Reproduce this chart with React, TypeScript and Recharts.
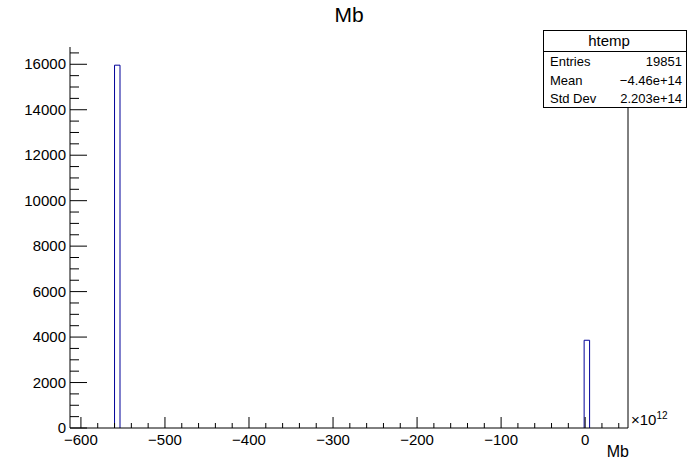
import { ComposedChart, Line, XAxis, YAxis } from "recharts";

// histogram bins (x in units of 1e12)
const binLow = [-560, -1.2];
const binHigh = [-553.5, 5.3];
const binCount = [15960, 3860];

const xTicks = [
  -600, -580, -560, -540, -520, -500, -480, -460, -440, -420, -400, -380, -360, -340, -320,
  -300, -280, -260, -240, -220, -200, -180, -160, -140, -120, -100, -80, -60, -40, -20, 0, 20, 40,
];
const yTicks = [
  0, 500, 1000, 1500, 2000, 2500, 3000, 3500, 4000, 4500, 5000, 5500, 6000, 6500, 7000, 7500,
  8000, 8500, 9000, 9500, 10000, 10500, 11000, 11500, 12000, 12500, 13000, 13500, 14000, 14500,
  15000, 15500, 16000, 16500,
];

const statNames = ["Entries", "Mean", "Std Dev"];
const statValues = ["19851", "\u22124.46e+14", "2.203e+14"];

// outline of each filled bin, null between bins so the base is not drawn
const outline: { x: number; y: number | null }[] = [];
binLow.forEach((lo, i) => {
  outline.push({ x: lo, y: 0 }, { x: lo, y: binCount[i] }, { x: binHigh[i], y: binCount[i] }, { x: binHigh[i], y: 0 }, { x: binHigh[i], y: null });
});

const font = "'Liberation Sans', Arial, sans-serif";
const fmt = (v: number) => (v < 0 ? "\u2212" + Math.abs(v) : String(v));

const XTick = (props: any) => {
  const { x, y, payload } = props;
  const major = payload.value % 100 === 0;
  return (
    <g>
      <line x1={x} x2={x} y1={y} y2={y - (major ? 11 : 5)} stroke="#000" />
      {major && (
        <text x={x} y={y + 17} textAnchor="middle" fontSize={15} fontFamily={font} fill="#000">
          {fmt(payload.value)}
        </text>
      )}
    </g>
  );
};

const YTick = (props: any) => {
  const { x, y, payload } = props;
  const major = payload.value % 2000 === 0;
  return (
    <g>
      <line x1={x} x2={x + (major ? 17 : 9)} y1={y} y2={y} stroke="#000" />
      {major && (
        <text x={x - 4} y={y + 5} textAnchor="end" fontSize={15} fontFamily={font} fill="#000">
          {payload.value}
        </text>
      )}
    </g>
  );
};

export default function App() {
  return (
    <div style={{ position: "absolute", left: 0, top: 0, width: 698, height: 476, background: "#fff", fontFamily: font }}>
      <ComposedChart
        width={698}
        height={476}
        data={outline}
        margin={{ top: 47, right: 69, bottom: 0, left: 0 }}
      >
        <XAxis
          dataKey="x"
          type="number"
          domain={[-613, 51]}
          allowDataOverflow
          ticks={xTicks}
          interval={0}
          tick={<XTick />}
          tickLine={false}
          tickSize={0}
          tickMargin={0}
          height={48}
          axisLine={{ stroke: "#000" }}
        />
        <XAxis xAxisId="top" orientation="top" type="number" domain={[-613, 51]} tick={false} tickLine={false} height={0} axisLine={{ stroke: "#000" }} />
        <YAxis
          type="number"
          domain={[0, 16760]}
          allowDataOverflow
          ticks={yTicks}
          interval={0}
          tick={<YTick />}
          tickLine={false}
          tickSize={0}
          tickMargin={0}
          width={70}
          axisLine={{ stroke: "#000" }}
        />
        <YAxis yAxisId="right" orientation="right" type="number" domain={[0, 16760]} tick={false} tickLine={false} width={1} axisLine={{ stroke: "#000" }} />
        <Line dataKey="y" type="linear" stroke="#000099" strokeWidth={1} dot={false} connectNulls={false} isAnimationActive={false} />
      </ComposedChart>

      <div style={{ position: "absolute", left: 0, top: 3, width: 698, textAlign: "center", fontSize: 21 }}>Mb</div>
      <div style={{ position: "absolute", left: 578, top: 443, width: 51, textAlign: "right", fontSize: 16 }}>Mb</div>
      <div style={{ position: "absolute", left: 631, top: 410, fontSize: 15 }}>
        {"\u00d710"}
        <sup style={{ fontSize: 10 }}>12</sup>
      </div>

      <div
        style={{
          position: "absolute",
          left: 543,
          top: 30,
          width: 142,
          height: 76,
          border: "1px solid #000",
          background: "#fff",
          fontSize: 13,
        }}
      >
        <div style={{ height: 20, lineHeight: "20px", textAlign: "center", paddingRight: 12, borderBottom: "1px solid #000", fontSize: 15 }}>htemp</div>
        {statNames.map((n, i) => (
          <div key={n} style={{ display: "flex", justifyContent: "space-between", height: 18.5, lineHeight: "19px", padding: "0 4px 0 6px" }}>
            <span>{n}</span>
            <span>{statValues[i]}</span>
          </div>
        ))}
      </div>
    </div>
  );
}
